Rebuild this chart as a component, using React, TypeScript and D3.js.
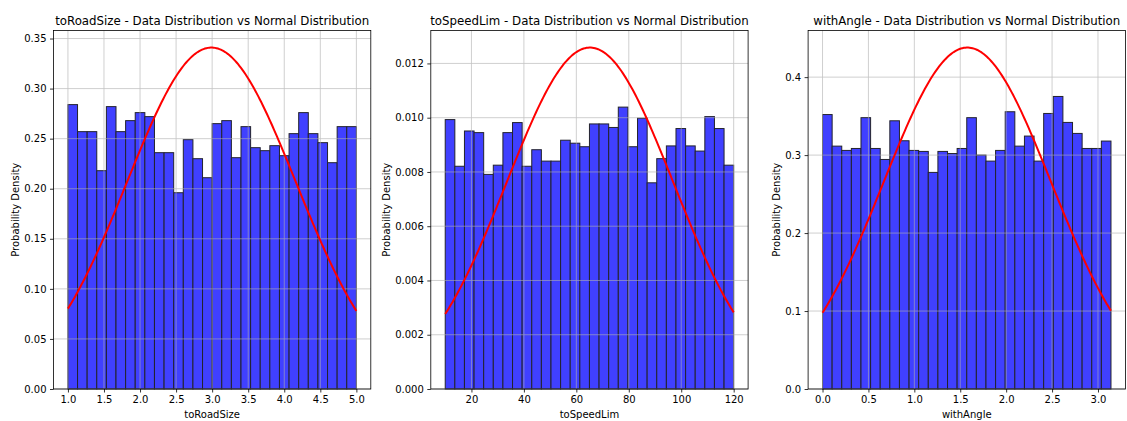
import { useEffect, useRef } from 'react';
import * as d3 from 'd3';

// histogram densities (30 bins each)
const roadSizeRange = [1.0, 5.0];
const roadSizeDensity = [
  0.284, 0.257, 0.257, 0.218, 0.282, 0.257, 0.268, 0.276, 0.272, 0.236,
  0.236, 0.196, 0.249, 0.230, 0.211, 0.265, 0.268, 0.231, 0.262, 0.241,
  0.238, 0.243, 0.233, 0.255, 0.276, 0.255, 0.246, 0.226, 0.262, 0.262,
];
const roadSizeNormal = { mean: 2.99, std: 1.17 };
const roadSizeXTicks = [1.0, 1.5, 2.0, 2.5, 3.0, 3.5, 4.0, 4.5, 5.0];
const roadSizeYTicks = [0, 0.05, 0.1, 0.15, 0.2, 0.25, 0.3, 0.35];

const speedLimRange = [10, 120];
const speedLimDensity = [
  0.00993, 0.00821, 0.00951, 0.00945, 0.00791, 0.00825, 0.00945, 0.00982, 0.00821, 0.00882,
  0.00840, 0.00840, 0.00917, 0.00906, 0.00893, 0.00977, 0.00977, 0.00964, 0.01039, 0.00893,
  0.00998, 0.00760, 0.00849, 0.00896, 0.00960, 0.00896, 0.00877, 0.01004, 0.00960, 0.00825,
];
const speedLimNormal = { mean: 65.2, std: 31.7 };
const speedLimXTicks = [20, 40, 60, 80, 100, 120];
const speedLimYTicks = [0, 0.002, 0.004, 0.006, 0.008, 0.01, 0.012];

const angleRange = [0, 3.1416];
const angleDensity = [
  0.352, 0.3115, 0.306, 0.3085, 0.348, 0.3085, 0.2944, 0.344, 0.3184, 0.306,
  0.3047, 0.2778, 0.3047, 0.302, 0.3085, 0.348, 0.300, 0.2923, 0.306, 0.3556,
  0.3115, 0.3244, 0.2923, 0.3534, 0.3752, 0.3419, 0.3278, 0.3085, 0.3085, 0.318,
];
const angleNormal = { mean: 1.5775, std: 0.911 };
const angleXTicks = [0, 0.5, 1.0, 1.5, 2.0, 2.5, 3.0];
const angleYTicks = [0, 0.1, 0.2, 0.3, 0.4];

const panels = [
  { name: 'toRoadSize', range: roadSizeRange, density: roadSizeDensity, normal: roadSizeNormal, xTicks: roadSizeXTicks, yTicks: roadSizeYTicks, xFmt: '.1f', yFmt: '.2f' },
  { name: 'toSpeedLim', range: speedLimRange, density: speedLimDensity, normal: speedLimNormal, xTicks: speedLimXTicks, yTicks: speedLimYTicks, xFmt: 'd', yFmt: '.3f' },
  { name: 'withAngle', range: angleRange, density: angleDensity, normal: angleNormal, xTicks: angleXTicks, yTicks: angleYTicks, xFmt: '.1f', yFmt: '.1f' },
];

const W = 1127;
const H = 421;
const FONT = '"DejaVu Sans", sans-serif';

export default function App() {
  const svgRef = useRef<SVGSVGElement>(null);

  useEffect(() => {
    if (!svgRef.current) return;
    const svg = d3.select(svgRef.current);
    svg.selectAll('*').remove();

    const lefts = [53.5, 430.8, 808.1];
    const pw = 317.3;
    const top = 30.5;
    const bottom = 389;

    panels.forEach((p, i) => {
      const [lo, hi] = p.range;
      const nBins = p.density.length;
      const binW = (hi - lo) / nBins;
      const pdf = (x: number) =>
        Math.exp(-0.5 * ((x - p.normal.mean) / p.normal.std) ** 2) / (p.normal.std * Math.sqrt(2 * Math.PI));
      const curve = d3.range(0, 201).map(k => {
        const x = lo + ((hi - lo) * k) / 200;
        return [x, pdf(x)] as [number, number];
      });
      const ymax = Math.max(d3.max(curve, d => d[1]) || 0, d3.max(p.density) || 0) * 1.05;
      const pad = (hi - lo) * 0.05;

      const x = d3.scaleLinear().domain([lo - pad, hi + pad]).range([lefts[i], lefts[i] + pw]);
      const y = d3.scaleLinear().domain([0, ymax]).range([bottom, top]);

      const g = svg.append('g').style('font-family', FONT);

      // bars
      g.selectAll('rect.bar')
        .data(p.density)
        .enter()
        .append('rect')
        .attr('class', 'bar')
        .attr('x', (_, j) => x(lo + j * binW))
        .attr('y', d => y(d))
        .attr('width', x(lo + binW) - x(lo))
        .attr('height', d => bottom - y(d))
        .attr('fill', 'rgb(64,64,255)')
        .attr('stroke', 'rgb(35,35,45)')
        .attr('stroke-width', 1);

      // grid (above bars, below line like matplotlib)
      const grid = g.append('g').attr('stroke', '#b0b0b0').attr('stroke-width', 0.8).attr('opacity', 0.75);
      p.xTicks.forEach(t => {
        grid.append('line').attr('x1', x(t)).attr('x2', x(t)).attr('y1', top).attr('y2', bottom);
      });
      p.yTicks.forEach(t => {
        grid.append('line').attr('x1', lefts[i]).attr('x2', lefts[i] + pw).attr('y1', y(t)).attr('y2', y(t));
      });

      // normal curve
      g.append('path')
        .datum(curve)
        .attr('fill', 'none')
        .attr('stroke', '#ff0000')
        .attr('stroke-width', 2)
        .attr('d', d3.line<[number, number]>().x(d => x(d[0])).y(d => y(d[1])));

      // axes
      const xAxis = g.append('g')
        .attr('transform', `translate(0,${bottom})`)
        .call(d3.axisBottom(x).tickValues(p.xTicks).tickFormat(d3.format(p.xFmt) as any).tickSizeOuter(0).tickSize(3.5).tickPadding(3.5));
      const yAxis = g.append('g')
        .attr('transform', `translate(${lefts[i]},0)`)
        .call(d3.axisLeft(y).tickValues(p.yTicks).tickFormat(d3.format(p.yFmt) as any).tickSizeOuter(0).tickSize(3.5).tickPadding(3.5));
      [xAxis, yAxis].forEach(a => {
        a.select('.domain').remove();
        a.selectAll('line').attr('stroke', '#000').attr('stroke-width', 0.8);
        a.selectAll('text').attr('font-size', 10).attr('fill', '#000').style('font-family', FONT);
      });

      // spines
      g.append('rect')
        .attr('x', lefts[i])
        .attr('y', top)
        .attr('width', pw)
        .attr('height', bottom - top)
        .attr('fill', 'none')
        .attr('stroke', '#000')
        .attr('stroke-width', 0.8);

      // measure y tick labels for ylabel placement
      let minX = lefts[i];
      yAxis.selectAll<SVGTextElement, unknown>('text').each(function () {
        const b = this.getBBox();
        const ctm = this.getCTM();
        const left = b.x + (ctm ? ctm.e : 0);
        if (left < minX) minX = left;
      });

      g.append('text')
        .attr('transform', `translate(${minX - 5},${(top + bottom) / 2}) rotate(-90)`)
        .attr('text-anchor', 'middle')
        .attr('font-size', 10)
        .text('Probability Density');

      g.append('text')
        .attr('x', lefts[i] + pw / 2)
        .attr('y', 418)
        .attr('text-anchor', 'middle')
        .attr('font-size', 10)
        .text(p.name);

      g.append('text')
        .attr('x', lefts[i] + pw / 2)
        .attr('y', 24.5)
        .attr('text-anchor', 'middle')
        .attr('font-size', 11.8)
        .text(`${p.name} - Data Distribution vs Normal Distribution`);
    });
  }, []);

  return (
    <svg
      ref={svgRef}
      width={W}
      height={H}
      style={{ position: 'absolute', left: 0, top: 0, background: '#fff' }}
    />
  );
}
